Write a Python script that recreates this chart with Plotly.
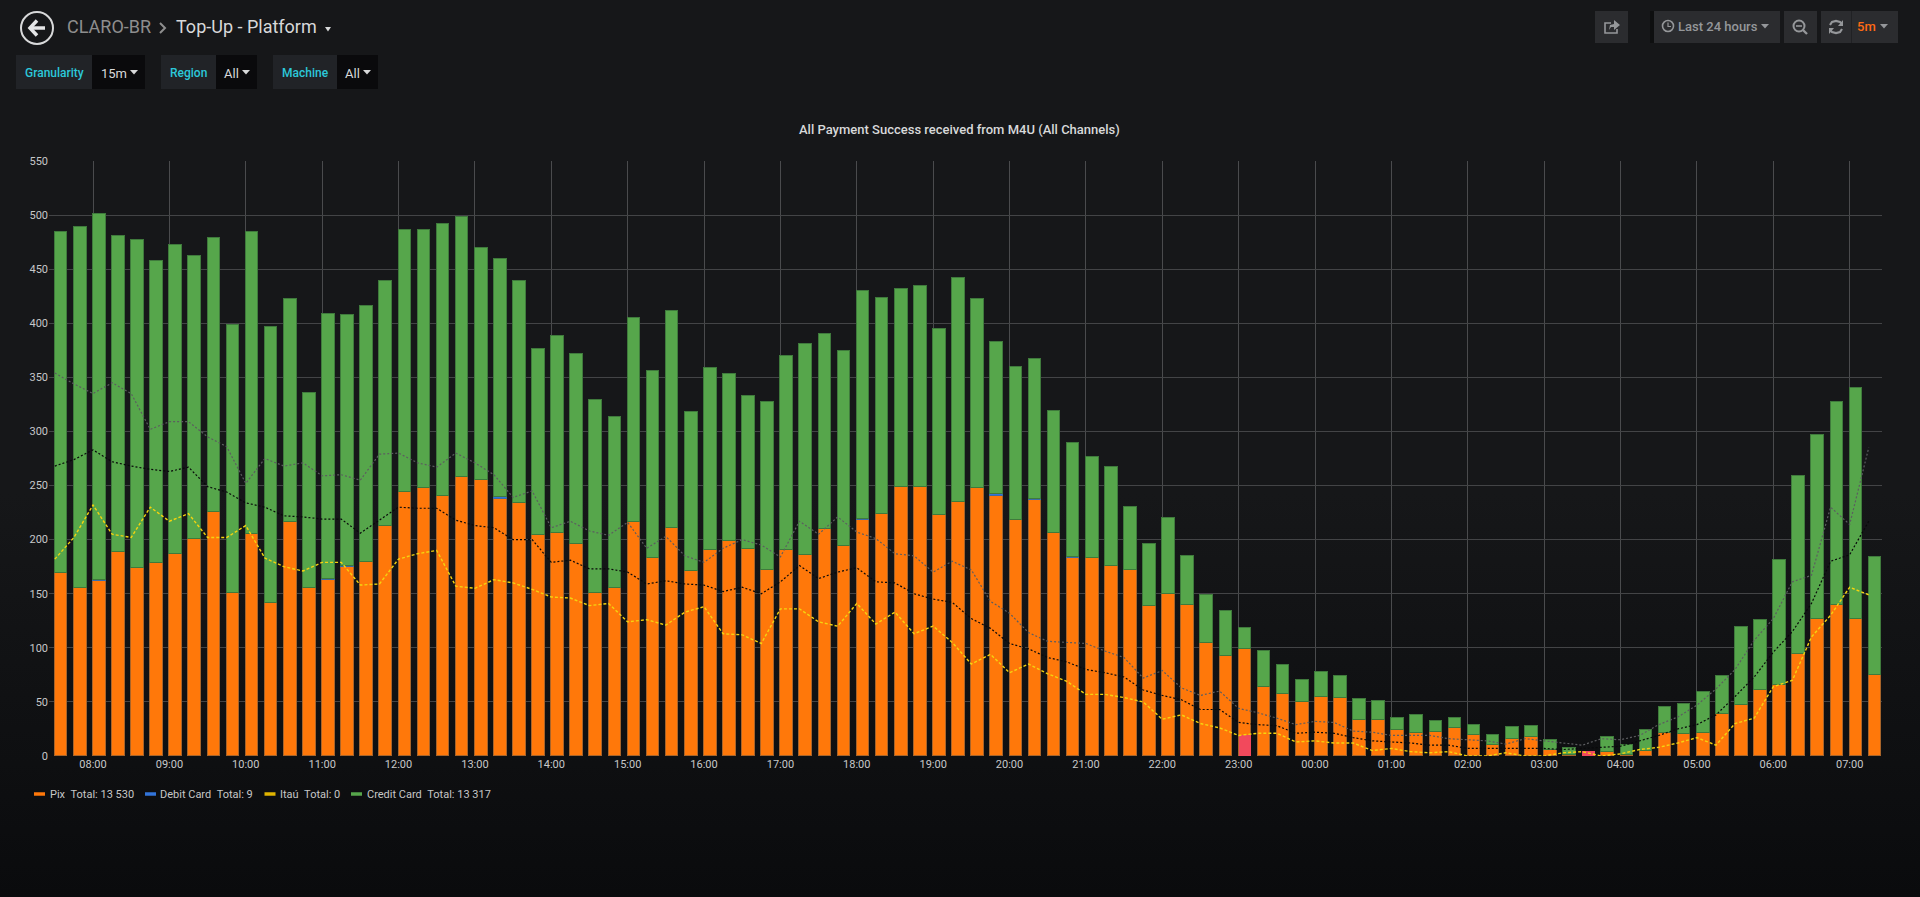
"""Grafana "Top-Up - Platform" dashboard panel: stacked payment bars with dotted compare lines."""

import pandas as pd
import plotly.graph_objects as go

W, H = 1920, 897

times = pd.date_range("2021-06-01 07:30", periods=96, freq="15min")

pix = [
    169, 155, 162, 189, 174, 178, 187, 201, 226, 151,
    205, 141, 216, 155, 163, 175, 179, 213, 244, 248,
    240, 258, 255, 238, 234, 204, 206, 196, 151, 155,
    216, 183, 211, 171, 190, 199, 191, 172, 190, 186,
    210, 194, 218, 224, 249, 249, 223, 235, 248, 240,
    218, 237, 206, 183, 183, 176, 172, 139, 150, 140,
    104, 92, 99, 64, 57, 50, 55, 54, 33, 33,
    24, 21, 22, 26, 19, 10, 16, 18, 6, 1,
    0, 4, 1, 5, 21, 20, 21, 39, 47, 61,
    66, 94, 127, 140, 127, 75,
]
debit_card = [
    0, 0, 1, 0, 0, 0, 0, 0, 0, 0,
    0, 0, 0, 0, 1, 1, 0, 0, 0, 0,
    0, 0, 0, 1, 0, 0, 0, 0, 0, 0,
    0, 0, 0, 0, 0, 0, 0, 0, 0, 0,
    0, 0, 1, 0, 0, 0, 0, 0, 0, 2,
    0, 1, 0, 1, 0, 0, 0, 0, 0, 0,
    0, 0, 0, 0, 0, 0, 0, 0, 0, 0,
    0, 0, 0, 0, 0, 0, 0, 0, 0, 0,
    0, 0, 0, 0, 0, 0, 0, 0, 0, 0,
    0, 0, 0, 0, 0, 0,
]
credit_card = [
    315, 334, 338, 292, 303, 280, 285, 261, 253, 247,
    279, 256, 206, 181, 245, 232, 237, 226, 242, 238,
    252, 240, 215, 220, 205, 172, 182, 176, 178, 158,
    189, 173, 200, 147, 169, 154, 142, 155, 180, 195,
    180, 180, 211, 199, 183, 185, 172, 207, 174, 141,
    142, 129, 113, 105, 93, 91, 58, 57, 70, 45,
    45, 42, 19, 33, 27, 20, 23, 20, 20, 18,
    11, 17, 10, 9, 10, 9, 11, 10, 9, 6,
    0, 14, 9, 19, 24, 28, 38, 35, 72, 65,
    115, 165, 170, 187, 213, 109,
]
# the two red bars, at 23:00 and 03:30
alert = [0] * 96
alert[62] = 19
alert[80] = 5

compare_grey = [
    354, 344, 335, 345, 335, 302, 309, 309, 295, 286,
    252, 275, 268, 271, 259, 260, 255, 279, 280, 271,
    267, 280, 271, 260, 239, 245, 211, 217, 208, 204,
    216, 192, 203, 185, 179, 192, 200, 195, 184, 217,
    205, 221, 207, 201, 187, 185, 170, 180, 172, 143,
    132, 114, 106, 105, 104, 97, 91, 72, 79, 63,
    56, 60, 44, 40, 35, 29, 32, 31, 23, 22,
    19, 19, 19, 16, 15, 14, 11, 16, 14, 12,
    10, 16, 15, 19, 29, 36, 47, 62, 80, 107,
    127, 161, 167, 230, 214, 285,
]
compare_black = [
    268, 274, 283, 272, 268, 265, 263, 267, 249, 244,
    234, 230, 222, 221, 219, 219, 206, 218, 230, 229,
    229, 218, 213, 211, 200, 200, 179, 181, 173, 173,
    170, 159, 162, 159, 158, 152, 156, 150, 161, 176,
    164, 170, 174, 161, 160, 150, 145, 142, 127, 118,
    104, 99, 91, 87, 80, 77, 73, 61, 56, 52,
    43, 43, 31, 29, 28, 21, 22, 21, 17, 14,
    13, 12, 10, 10, 7, 7, 7, 7, 7, 6,
    7, 8, 9, 14, 19, 25, 29, 38, 55, 73,
    96, 115, 141, 180, 186, 217,
]
compare_yellow = [
    182, 202, 232, 205, 202, 230, 217, 224, 202, 202,
    213, 183, 175, 171, 179, 179, 158, 159, 182, 187,
    190, 157, 155, 163, 160, 154, 147, 146, 139, 141,
    124, 126, 121, 133, 138, 113, 112, 104, 136, 136,
    124, 120, 141, 122, 133, 113, 120, 105, 85, 94,
    77, 85, 76, 69, 57, 57, 54, 50, 34, 38,
    30, 26, 19, 21, 21, 13, 14, 12, 12, 5,
    7, 4, 3, 4, 0, 0, 3, 0, 0, 3,
    4, 0, 2, 6, 8, 12, 17, 10, 30, 35,
    64, 70, 110, 130, 156, 149,
]

y_ticks = list(range(0, 551, 50))
legend_items = [
    ("Pix\u00a0\u00a0Total: 13 530", "#ff780a", 34, 50),
    ("Debit Card\u00a0\u00a0Total: 9", "#3274d9", 145, 160),
    ("Ita\u00fa\u00a0\u00a0Total: 0", "#e0b400", 264.5, 280),
    ("Credit Card\u00a0\u00a0Total: 13 317", "#56a64b", 351, 366.5),
]

# bars sit to the right of their timestamp, 0.66 of a 15 minute slot wide
BAR_MS = 594000
x_range = ["2021-06-01 07:25:25", "2021-06-02 07:25:25"]
ICON = "#95979a"


def fx(x):
    return x / W


def fy(y):
    return 1 - y / H


def text(x, y, s, color="#d8d9da", size=12, anchor="left", weight=400):
    return dict(
        x=fx(x), y=fy(y), xref="paper", yref="paper", text=s, showarrow=False,
        xanchor=anchor, yanchor="middle", borderpad=0, borderwidth=0,
        font=dict(family="Roboto", size=size, color=color, weight=weight),
    )


def rect(x0, y0, x1, y1, fill):
    return dict(
        type="rect", xref="paper", yref="paper", x0=fx(x0), y0=fy(y0), x1=fx(x1), y1=fy(y1),
        fillcolor=fill, line_width=0, layer="below",
    )


def ring(cx, cy, r, color, width):
    return dict(
        type="circle", xref="paper", yref="paper", x0=fx(cx - r), y0=fy(cy - r),
        x1=fx(cx + r), y1=fy(cy + r), line=dict(color=color, width=width), layer="above",
    )


def path(points, color, width=0, closed=False):
    d = "M" + " L".join(f"{fx(x):.5f} {fy(y):.5f}" for x, y in points)
    if closed:
        return dict(
            type="path", xref="paper", yref="paper", path=d + " Z", fillcolor=color,
            line_width=0, layer="above",
        )
    return dict(
        type="path", xref="paper", yref="paper", path=d, line=dict(color=color, width=width),
        layer="above",
    )


def caret(x, y, color="#d8d9da", half=4):
    return path([(x - half, y - 2), (x + half, y - 2), (x, y + 2.5)], color, closed=True)


fig = go.Figure()

for name, values, fill, edge in [
    ("Pix", pix, "#ff780a", "#a8642a"),
    ("Debit Card", debit_card, "#3274d9", "#3c6ba8"),
    ("Credit Card", credit_card, "#56a64b", "#3f7a3c"),
]:
    fig.add_trace(go.Bar(
        x=times, y=values, name=name, width=BAR_MS, offset=0,
        marker=dict(color=fill, line=dict(color=edge, width=1)),
    ))

# red bars and compare lines live on an overlay so they paint over the stack
fig.add_trace(go.Bar(
    x=times, y=alert, name="Alert", width=BAR_MS, offset=0, xaxis="x2", yaxis="y2",
    marker=dict(color="#f2495c", line_width=0),
))
for name, values, color, dash, line_w in [
    ("Grey compare", compare_grey, "#5c5d60", "2px,2px", 1.2),
    ("Black compare", compare_black, "#08090a", "2px,2px", 1.2),
    ("Yellow compare", compare_yellow, "#f5d30f", "3px,2px", 1.4),
]:
    fig.add_trace(go.Scatter(
        x=times, y=values, name=name, mode="lines", xaxis="x2", yaxis="y2",
        line=dict(color=color, width=line_w, dash=dash),
    ))

shapes = [
    # back button
    ring(37, 28, 16, "#d8d9da", 2),
    path([(30, 28), (45, 28)], "#e4e5e6", 3.5),
    path([(37, 20.5), (30, 28), (37, 35.5)], "#e4e5e6", 3.5),
    # breadcrumb chevron and title caret
    path([(160, 23), (165, 28), (160, 33)], "#8e8e8e", 2),
    caret(328, 29, half=3),
    # template variables
    rect(16, 55, 92, 89, "#212327"), rect(92, 55, 145, 89, "#0a0a0c"),
    rect(161, 55, 216, 89, "#212327"), rect(216, 55, 257, 89, "#0a0a0c"),
    rect(273, 55, 337, 89, "#212327"), rect(337, 55, 378, 89, "#0a0a0c"),
    caret(134, 72), caret(246, 72), caret(367, 72),
    # toolbar buttons
    rect(1595, 11, 1628, 43, "#2b2c2f"),
    rect(1650, 11, 1654, 43, "#0e0f10"),
    rect(1654, 11, 1780, 43, "#2b2c2f"),
    rect(1784, 11, 1817, 43, "#2b2c2f"),
    rect(1821, 11, 1898, 43, "#2b2c2f"),
    rect(1851, 11, 1852, 43, "#202124"),
    # share icon
    path([(1611, 23), (1605, 23), (1605, 33), (1617, 33), (1617, 29)], ICON, 1.6),
    path([(1609, 30), (1610, 25), (1614, 24), (1614, 20), (1620, 25), (1614, 30), (1614, 27), (1611, 27)],
         ICON, closed=True),
    # clock
    ring(1668, 26, 5.5, ICON, 1.6),
    path([(1668, 22.5), (1668, 26.5), (1671, 26.5)], ICON, 1.2),
    caret(1765, 26, ICON),
    # zoom out
    ring(1799, 26, 5.5, ICON, 2),
    path([(1796, 26), (1802, 26)], ICON, 1.6),
    path([(1803, 30), (1807, 34)], ICON, 2.4),
    # refresh
    path([(1830, 25), (1832, 22), (1836, 21), (1840, 22), (1842, 24)], ICON, 2.2),
    path([(1843, 20), (1843, 26), (1838, 26)], ICON, closed=True),
    path([(1842, 29), (1840, 32), (1836, 33), (1832, 32), (1830, 30)], ICON, 2.2),
    path([(1829, 34), (1829, 28), (1834, 28)], ICON, closed=True),
    caret(1884, 26, ICON),
]

annotations = [
    text(67, 27, "CLARO-BR", "#8e8e8e", 18),
    text(176, 27, "Top-Up - Platform", "#d8d9da", 18),
    text(25, 73, "Granularity", "#2cc8da", 12, weight=500),
    text(101, 73, "15m", "#d8d9da", 13),
    text(170, 73, "Region", "#2cc8da", 12, weight=500),
    text(224, 73, "All", "#d8d9da", 13),
    text(282, 73, "Machine", "#2cc8da", 12, weight=500),
    text(345, 73, "All", "#d8d9da", 13),
    text(1678, 26, "Last 24 hours", "#95979a", 13, weight=500),
    text(1857, 26, "5m", "#ff6a14", 13, weight=500),
    text(959, 129, "All Payment Success received from M4U (All Channels)", "#d8d9da", 13,
         anchor="center", weight=500),
]

for label, color, swatch_x, text_x in legend_items:
    shapes.append(path([(swatch_x, 794), (swatch_x + 11, 794)], color, 3.5))
    annotations.append(text(text_x, 794, label, "#c7c7c7", 11))

axis_font = dict(family="Roboto", size=11, color="#c7c8c9")
fig.update_layout(
    width=W, height=H, margin=dict(l=0, r=0, t=0, b=0, autoexpand=False), autosize=False,
    barmode="stack", bargap=0, showlegend=False,
    paper_bgcolor="rgba(0,0,0,0)", plot_bgcolor="rgba(0,0,0,0)",
    font=dict(family="Roboto"),
    shapes=shapes, annotations=annotations,
    xaxis=dict(
        domain=[fx(49), fx(1882)], type="date", range=x_range,
        tick0="2021-06-01 08:00", dtick=3600000, tickformat="%H:%M",
        gridcolor="#4a4b4d", gridwidth=1, showline=False, zeroline=False,
        tickfont=axis_font,
    ),
    yaxis=dict(
        domain=[fy(756), fy(161)], range=[0, 550], tickvals=y_ticks,
        gridcolor="#434446", gridwidth=1, zeroline=False, showline=False,
        tickfont=axis_font,
    ),
    xaxis2=dict(type="date", range=x_range, overlaying="x", matches="x", visible=False),
    yaxis2=dict(range=[0, 550], overlaying="y", matches="y", visible=False),
)

# page background fades to near black, as in the Grafana dark theme
page_css = (
    "document.body.style.margin='0';document.body.style.overflow='hidden';"
    "document.body.style.height='100vh';"
    "document.body.style.background='linear-gradient(#161719 0%,#161719 55%,#0a0b0d 100%)';"
)
fig.write_html("out.html", post_script=page_css, config=dict(displayModeBar=False))
